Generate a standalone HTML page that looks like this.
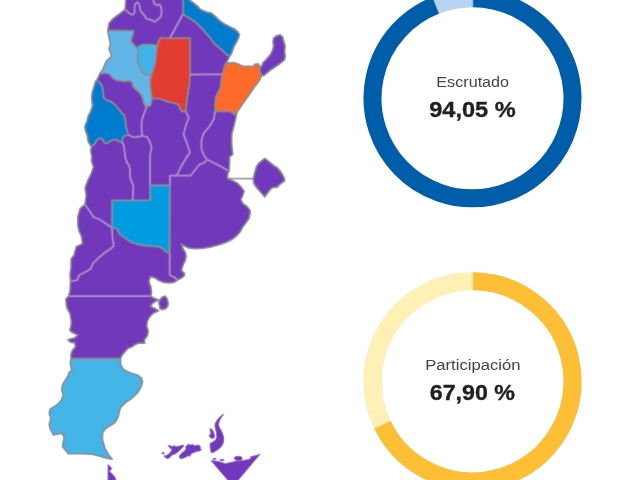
<!DOCTYPE html>
<html lang="es">
<head>
<meta charset="utf-8">
<title>Escrutinio</title>
<style>
html,body{margin:0;padding:0;background:#fff;}
body{width:621px;height:480px;overflow:hidden;position:relative;font-family:"Liberation Sans",sans-serif;}
svg{position:absolute;left:0;top:0;display:block;}
.lbl{font-family:"Liberation Sans",sans-serif;font-size:15.3px;fill:#444;}
.val{font-family:"Liberation Sans",sans-serif;font-size:22.2px;font-weight:bold;fill:#1f2024;stroke:#1f2024;stroke-width:0.35px;}
</style>
</head>
<body>
<svg width="621" height="480" viewBox="0 0 621 480">
<defs><filter id="soft" x="0" y="0" width="621" height="480" filterUnits="userSpaceOnUse"><feConvolveMatrix order="3" kernelMatrix="0.0113 0.0838 0.0113 0.0838 0.6193 0.0838 0.0113 0.0838 0.0113" edgeMode="duplicate" preserveAlpha="true"/></filter></defs>
<g filter="url(#soft)">
<rect x="-5" y="-5" width="631" height="490" fill="#fff"/>
<g stroke="none">
<path d="M125.8 -2.0 L183.0 -2.0 L183.0 14.0 L170.0 38.0 L160.6 38.0 L158.6 41.2 L157.2 45.3 L155.0 45.0 L149.0 44.5 L142.5 44.5 L138.7 46.4 L136.7 48.3 L134.8 45.7 L132.2 43.2 L130.9 40.0 L132.9 34.8 L133.5 30.8 L107.7 30.4 L108.4 27.0 L109.0 23.2 L112.9 18.7 L119.3 14.2 L125.1 9.3 L125.4 5.0 L125.8 0.0 L125.8 -2.0 Z" fill="#7239bc"/>
<path d="M183.0 -2.0 L183.0 14.0 L186.8 16.8 L191.3 19.3 L195.8 22.6 L199.6 26.4 L203.5 30.3 L206.7 34.1 L209.9 37.4 L212.5 41.2 L215.1 44.5 L219.0 47.7 L222.8 50.9 L226.7 54.8 L229.7 56.5 L231.9 52.8 L233.1 49.0 L234.4 45.7 L236.4 42.5 L238.3 38.7 L239.6 34.8 L237.7 31.6 L234.4 29.0 L229.3 26.4 L224.1 23.8 L219.0 20.0 L215.1 16.1 L211.2 12.9 L207.4 12.2 L200.9 9.7 L197.7 6.4 L193.2 2.6 L189.3 0.0 L188.0 -2.0 Z" fill="#057ccf"/>
<path d="M170.0 38.0 L183.0 14.0 L186.8 16.8 L191.3 19.3 L195.8 22.6 L199.6 26.4 L203.5 30.3 L206.7 34.1 L209.9 37.4 L212.5 41.2 L215.1 44.5 L219.0 47.7 L222.8 50.9 L226.7 54.8 L229.7 56.5 L227.6 60.7 L224.8 65.0 L223.4 71.0 L222.3 74.3 L190.0 74.5 L190.0 38.0 L170.0 38.0 Z" fill="#7239bc"/>
<path d="M157.2 45.3 L158.6 41.2 L160.6 38.0 L170.0 38.0 L190.0 38.0 L190.0 74.5 L189.5 85.0 L187.2 97.7 L185.7 111.4 L181.5 111.4 L178.4 104.5 L174.0 103.0 L168.4 101.9 L160.0 98.7 L152.2 98.5 L150.6 88.5 L150.2 80.8 L151.5 75.0 L153.0 70.0 L155.4 62.7 L156.6 50.0 L157.2 45.3 Z" fill="#e23b30"/>
<path d="M136.7 48.3 L138.7 46.4 L142.5 44.5 L149.0 44.5 L155.0 45.0 L157.2 45.3 L156.6 50.0 L155.4 62.7 L153.0 70.0 L151.5 75.0 L147.0 75.0 L143.1 73.0 L140.6 68.5 L138.6 64.7 L137.3 60.2 L138.0 55.4 L138.7 51.5 L136.7 48.3 Z" fill="#40b4e8"/>
<path d="M107.7 30.4 L133.5 30.8 L132.9 34.8 L130.9 40.0 L132.2 43.2 L134.8 45.7 L136.7 48.3 L138.7 51.5 L138.0 55.4 L137.3 60.2 L138.6 64.7 L140.6 68.5 L143.1 73.0 L147.0 75.0 L151.5 75.0 L150.2 80.8 L150.6 88.5 L152.2 98.5 L150.6 105.0 L146.4 107.2 L144.4 104.6 L143.1 100.1 L141.9 96.2 L139.3 92.4 L135.4 89.1 L132.8 85.9 L132.2 82.7 L129.0 80.8 L124.5 81.4 L120.0 80.8 L116.1 80.1 L112.2 77.6 L109.6 74.3 L105.8 73.0 L101.3 73.7 L100.5 72.5 L102.6 69.8 L104.5 65.3 L106.4 60.8 L110.9 57.0 L111.0 54.3 L109.0 49.0 L110.4 44.0 L109.0 37.5 L107.7 30.4 Z" fill="#64b4e7"/>
<path d="M100.5 72.5 L101.3 73.7 L105.8 73.0 L109.6 74.3 L112.2 77.6 L116.1 80.1 L120.0 80.8 L124.5 81.4 L129.0 80.8 L132.2 82.7 L132.8 85.9 L135.4 89.1 L139.3 92.4 L141.9 96.2 L143.1 100.1 L144.4 104.6 L146.4 107.2 L143.5 115.3 L141.5 121.8 L141.5 129.0 L142.2 135.9 L140.0 136.3 L134.8 137.3 L131.0 136.3 L128.4 134.7 L127.7 132.1 L126.5 128.9 L125.8 125.0 L125.6 120.5 L124.1 115.3 L121.9 113.0 L118.7 109.1 L114.8 104.6 L110.9 101.4 L106.4 100.1 L103.8 97.5 L103.2 92.4 L102.6 87.2 L100.6 83.4 L97.0 80.1 L98.0 77.6 L100.5 72.5 Z" fill="#7239bc"/>
<path d="M97.0 80.1 L100.6 83.4 L102.6 87.2 L103.2 92.4 L103.8 97.5 L106.4 100.1 L110.9 101.4 L114.8 104.6 L118.7 109.1 L121.9 113.0 L124.1 115.3 L125.6 120.5 L125.8 125.0 L126.5 128.9 L127.7 132.1 L128.4 134.7 L124.5 136.0 L122.9 137.6 L122.3 140.5 L121.9 142.4 L119.4 141.8 L116.8 139.8 L114.2 139.5 L111.6 140.5 L109.7 141.5 L108.4 142.7 L105.8 143.4 L104.2 142.4 L102.6 139.5 L100.0 137.9 L96.4 140.4 L95.1 143.7 L91.3 146.9 L89.3 143.7 L88.0 141.1 L87.4 135.9 L85.5 130.8 L84.8 126.3 L86.8 121.8 L88.0 116.6 L90.6 111.4 L92.6 105.0 L92.2 104.0 L91.6 97.5 L92.2 92.4 L94.2 85.9 L95.5 81.4 L97.0 80.1 Z" fill="#057ccf"/>
<path d="M91.3 146.9 L95.1 143.7 L96.4 140.4 L100.0 137.9 L102.6 139.5 L104.2 142.4 L105.8 143.4 L108.4 142.7 L109.7 141.5 L111.6 140.5 L114.2 139.5 L116.8 139.8 L119.4 141.8 L121.9 142.4 L123.2 143.7 L124.1 147.5 L124.8 152.7 L125.4 157.8 L126.7 161.7 L128.6 165.0 L130.0 168.8 L130.0 177.2 L133.3 185.6 L132.8 200.2 L112.0 200.2 L112.0 227.5 L110.2 226.4 L104.0 222.2 L98.7 219.0 L93.5 217.0 L89.3 210.7 L85.0 204.4 L86.2 195.0 L85.0 187.7 L88.3 179.3 L91.4 173.0 L93.5 166.7 L92.6 165.0 L91.3 160.4 L91.9 156.5 L90.6 151.4 L91.3 146.9 Z" fill="#7239bc"/>
<path d="M128.4 134.7 L131.0 136.3 L134.8 137.3 L140.0 136.3 L142.2 135.9 L147.3 137.2 L150.0 142.4 L151.6 147.0 L150.6 152.0 L150.0 158.4 L150.0 185.2 L150.0 200.2 L132.8 200.2 L133.3 185.6 L130.0 177.2 L130.0 168.8 L128.6 165.0 L126.7 161.7 L125.4 157.8 L124.8 152.7 L124.1 147.5 L123.2 143.7 L121.9 142.4 L122.3 140.5 L122.9 137.6 L124.5 136.0 L128.4 134.7 Z" fill="#7239bc"/>
<path d="M152.2 98.5 L160.0 98.7 L168.4 101.9 L174.0 103.0 L178.4 104.5 L181.5 111.4 L185.7 111.4 L188.8 117.7 L185.7 126.0 L183.6 134.4 L186.7 142.8 L190.0 152.2 L187.2 156.3 L181.0 166.7 L176.7 175.7 L170.0 175.7 L170.0 185.2 L150.0 185.2 L150.0 158.4 L150.6 152.0 L151.6 147.0 L150.0 142.4 L147.3 137.2 L142.2 135.9 L141.5 129.0 L141.5 121.8 L143.5 115.3 L146.4 107.2 L150.6 105.0 L152.2 98.5 Z" fill="#7239bc"/>
<path d="M190.0 74.5 L222.3 74.3 L221.3 79.5 L220.2 88.0 L216.0 96.3 L215.0 104.0 L215.0 111.4 L214.0 118.7 L209.8 126.0 L203.5 133.4 L201.4 140.7 L201.4 149.0 L204.5 156.4 L207.3 159.5 L204.5 162.7 L199.5 164.5 L190.4 175.7 L176.7 175.7 L181.0 166.7 L187.2 156.3 L190.0 152.2 L186.7 142.8 L183.6 134.4 L185.7 126.0 L188.8 117.7 L185.7 111.4 L187.2 97.7 L189.5 85.0 L190.0 74.5 Z" fill="#7239bc"/>
<path d="M224.8 65.0 L227.9 63.0 L233.0 62.6 L237.6 63.7 L241.4 65.6 L245.3 66.5 L249.1 66.0 L252.4 66.9 L255.0 64.3 L258.2 63.7 L259.5 66.2 L260.1 71.4 L261.4 76.5 L259.5 80.4 L256.2 85.0 L253.7 88.0 L249.5 94.2 L243.3 103.0 L237.0 112.4 L234.9 114.5 L230.7 111.4 L224.4 111.4 L215.0 111.4 L215.0 104.0 L216.0 96.3 L220.2 88.0 L221.3 79.5 L222.3 74.3 L223.4 71.0 L224.8 65.0 Z" fill="#fd6a2a"/>
<path d="M260.1 71.4 L261.4 74.6 L263.3 75.9 L266.5 73.3 L270.4 70.1 L274.3 67.5 L278.1 65.0 L281.4 62.4 L284.6 59.8 L285.2 55.9 L284.6 50.8 L285.2 46.3 L283.9 41.8 L282.7 37.2 L280.1 34.7 L276.2 36.0 L273.6 37.9 L273.0 41.8 L273.6 46.3 L272.3 50.8 L269.8 55.3 L266.5 59.1 L263.3 62.4 L260.7 67.5 L259.5 66.2 Z" fill="#7239bc"/>
<path d="M215.0 111.4 L224.4 111.4 L230.7 111.4 L234.9 114.5 L237.0 112.4 L235.4 120.0 L233.5 127.7 L231.8 134.2 L231.6 141.9 L232.2 149.6 L232.8 154.3 L229.7 157.0 L229.5 163.5 L229.3 171.0 L225.5 169.3 L220.3 166.1 L215.2 163.5 L210.0 161.0 L207.3 159.5 L204.5 156.4 L201.4 149.0 L201.4 140.7 L203.5 133.4 L209.8 126.0 L214.0 118.7 L215.0 111.4 Z" fill="#7239bc"/>
<path d="M170.0 185.2 L170.0 175.7 L176.7 175.7 L190.4 175.7 L199.5 164.5 L204.5 162.7 L207.3 159.5 L210.0 161.0 L215.2 163.5 L220.3 166.1 L225.5 169.3 L229.3 171.0 L228.0 173.2 L227.4 178.4 L231.9 180.3 L237.1 182.9 L240.9 186.7 L244.2 191.2 L242.9 195.1 L240.9 199.6 L242.9 203.5 L246.7 206.1 L250.0 210.0 L250.3 212.8 L249.0 218.5 L246.0 222.7 L242.2 227.9 L240.2 231.8 L237.0 235.6 L231.9 239.5 L225.4 242.7 L217.7 245.3 L209.9 247.2 L202.2 248.5 L194.5 248.8 L188.0 247.9 L184.2 245.9 L181.6 244.0 L182.9 248.5 L185.5 252.4 L186.1 256.2 L185.5 260.1 L183.5 264.0 L182.2 267.8 L181.5 270.6 L184.6 273.3 L184.4 275.5 L181.9 277.9 L178.0 279.8 L177.3 280.3 L175.4 277.9 L171.5 276.0 L169.6 274.7 L169.8 253.8 L170.0 185.2 Z" fill="#7239bc"/>
<path d="M150.0 185.2 L170.0 185.2 L169.8 253.8 L164.0 250.2 L160.0 247.0 L154.2 246.5 L143.7 245.6 L137.3 244.3 L132.2 242.8 L128.3 240.3 L124.4 237.7 L120.6 235.1 L118.6 232.5 L116.7 228.7 L112.0 227.5 L112.0 200.2 L132.8 200.2 L150.0 200.2 L150.0 185.2 Z" fill="#059ce1"/>
<path d="M85.0 204.4 L89.3 210.7 L93.5 217.0 L98.7 219.0 L104.0 222.2 L110.2 226.4 L112.0 227.5 L112.5 238.4 L113.8 245.7 L110.7 248.8 L104.4 253.0 L98.0 258.3 L93.0 263.5 L90.8 268.7 L83.5 273.0 L79.3 275.0 L77.2 280.2 L70.5 281.3 L70.0 274.0 L71.0 267.7 L71.0 259.3 L74.0 255.0 L76.2 246.7 L82.4 243.6 L81.4 236.3 L79.0 231.0 L77.8 225.4 L77.8 217.0 L80.0 208.6 L85.0 204.4 Z" fill="#7239bc"/>
<path d="M70.5 281.3 L77.2 280.2 L79.3 275.0 L83.5 273.0 L90.8 268.7 L93.0 263.5 L98.0 258.3 L104.4 253.0 L110.7 248.8 L113.8 245.7 L112.5 238.4 L112.0 227.5 L116.7 228.7 L118.6 232.5 L120.6 235.1 L124.4 237.7 L128.3 240.3 L132.2 242.8 L137.3 244.3 L143.7 245.6 L154.2 246.5 L160.0 247.0 L164.0 250.2 L169.8 253.8 L169.6 274.7 L171.5 276.0 L175.4 277.9 L177.3 280.3 L174.1 282.4 L169.0 283.0 L163.8 282.4 L158.7 280.5 L154.8 277.9 L150.3 276.6 L149.0 281.8 L150.9 286.9 L151.6 292.0 L150.9 296.2 L68.5 296.2 L70.0 290.7 L70.5 281.3 Z" fill="#7239bc"/>
<path d="M68.5 296.2 L150.9 296.2 L154.7 298.5 L158.7 299.8 L153.0 303.0 L150.3 306.2 L154.0 308.0 L158.7 310.7 L153.3 313.3 L150.0 316.7 L147.5 320.8 L146.7 325.8 L148.3 330.8 L147.5 335.8 L144.2 340.0 L145.0 343.3 L140.0 343.0 L135.8 344.2 L132.5 346.7 L128.3 348.3 L125.0 351.7 L121.7 355.8 L120.6 358.6 L71.0 358.6 L70.9 354.5 L72.2 350.6 L75.4 346.8 L74.8 342.9 L70.3 342.2 L67.9 339.7 L74.8 337.7 L78.2 335.2 L72.2 332.6 L69.6 330.0 L70.4 328.0 L71.4 322.6 L70.0 313.7 L66.7 307.5 L65.7 299.0 L68.5 296.2 Z" fill="#7239bc"/>
<path d="M71.0 358.6 L120.6 358.6 L120.6 364.4 L123.7 369.7 L130.0 372.8 L137.3 375.0 L141.5 378.0 L142.6 382.2 L141.0 387.0 L137.8 392.6 L132.6 397.8 L126.3 402.0 L121.0 407.2 L119.7 410.0 L118.3 416.7 L115.0 422.5 L110.0 425.8 L105.0 429.2 L102.5 433.3 L102.5 440.0 L105.0 448.3 L108.3 454.2 L112.2 459.3 L106.7 458.3 L98.3 455.8 L91.7 454.2 L81.7 453.7 L68.3 453.7 L66.7 451.7 L62.5 446.7 L63.3 441.7 L64.2 436.7 L61.7 433.3 L53.3 435.0 L50.0 428.3 L49.2 424.2 L50.8 418.3 L49.2 413.3 L50.0 409.2 L56.7 405.0 L60.8 400.8 L63.3 395.0 L61.7 390.0 L62.5 385.0 L65.1 380.3 L67.7 376.4 L69.0 372.5 L71.6 370.6 L70.9 367.4 L70.3 362.2 L71.0 358.6 Z" fill="#45b4e6"/>
</g>
<g fill="none" stroke="#8a8a8a" stroke-width="1.6" stroke-linejoin="round">
<path d="M260.1 71.4 L259.5 66.2" stroke="#8a8a8a"/>
<path d="M183.0 -2.0 L183.0 14.0" stroke="#8a8a8a"/>
<path d="M183.0 14.0 L186.8 16.8 L191.3 19.3 L195.8 22.6 L199.6 26.4 L203.5 30.3 L206.7 34.1 L209.9 37.4 L212.5 41.2 L215.1 44.5 L219.0 47.7 L222.8 50.9 L226.7 54.8 L229.7 56.5" stroke="#8a8a8a"/>
<path d="M170.0 38.0 L160.6 38.0 L158.6 41.2 L157.2 45.3" stroke="#8a8a8a"/>
<path d="M170.0 38.0 L190.0 38.0 L190.0 74.5" stroke="#8a8a8a"/>
<path d="M224.8 65.0 L223.4 71.0 L222.3 74.3" stroke="#8a8a8a"/>
<path d="M190.0 74.5 L189.5 85.0 L187.2 97.7 L185.7 111.4" stroke="#8a8a8a"/>
<path d="M152.2 98.5 L160.0 98.7 L168.4 101.9 L174.0 103.0 L178.4 104.5 L181.5 111.4 L185.7 111.4" stroke="#8a8a8a"/>
<path d="M151.5 75.0 L150.2 80.8 L150.6 88.5 L152.2 98.5" stroke="#8a8a8a"/>
<path d="M157.2 45.3 L156.6 50.0 L155.4 62.7 L153.0 70.0 L151.5 75.0" stroke="#8a8a8a"/>
<path d="M136.7 48.3 L138.7 46.4 L142.5 44.5 L149.0 44.5 L155.0 45.0 L157.2 45.3" stroke="#8a8a8a"/>
<path d="M107.7 30.4 L133.5 30.8 L132.9 34.8 L130.9 40.0 L132.2 43.2 L134.8 45.7 L136.7 48.3" stroke="#8a8a8a"/>
<path d="M136.7 48.3 L138.7 51.5 L138.0 55.4 L137.3 60.2 L138.6 64.7 L140.6 68.5 L143.1 73.0 L147.0 75.0 L151.5 75.0" stroke="#8a8a8a"/>
<path d="M100.5 72.5 L101.3 73.7 L105.8 73.0 L109.6 74.3 L112.2 77.6 L116.1 80.1 L120.0 80.8 L124.5 81.4 L129.0 80.8 L132.2 82.7 L132.8 85.9 L135.4 89.1 L139.3 92.4 L141.9 96.2 L143.1 100.1 L144.4 104.6 L146.4 107.2" stroke="#8a8a8a"/>
<path d="M146.4 107.2 L150.6 105.0 L152.2 98.5" stroke="#8a8a8a"/>
<path d="M97.0 80.1 L100.6 83.4 L102.6 87.2 L103.2 92.4 L103.8 97.5 L106.4 100.1 L110.9 101.4 L114.8 104.6 L118.7 109.1 L121.9 113.0 L124.1 115.3 L125.6 120.5 L125.8 125.0 L126.5 128.9 L127.7 132.1 L128.4 134.7" stroke="#8a8a8a"/>
<path d="M121.9 142.4 L119.4 141.8 L116.8 139.8 L114.2 139.5 L111.6 140.5 L109.7 141.5 L108.4 142.7 L105.8 143.4 L104.2 142.4 L102.6 139.5 L100.0 137.9 L96.4 140.4 L95.1 143.7 L91.3 146.9" stroke="#8a8a8a"/>
<path d="M128.4 134.7 L124.5 136.0 L122.9 137.6 L122.3 140.5 L121.9 142.4" stroke="#8a8a8a"/>
<path d="M150.0 185.2 L150.0 200.2 L132.8 200.2" stroke="#8a8a8a"/>
<path d="M132.8 200.2 L112.0 200.2 L112.0 227.5" stroke="#8a8a8a"/>
<path d="M112.0 227.5 L116.7 228.7 L118.6 232.5 L120.6 235.1 L124.4 237.7 L128.3 240.3 L132.2 242.8 L137.3 244.3 L143.7 245.6 L154.2 246.5 L160.0 247.0 L164.0 250.2 L169.8 253.8" stroke="#8a8a8a"/>
<path d="M150.0 185.2 L170.0 185.2" stroke="#8a8a8a"/>
<path d="M170.0 185.2 L169.8 253.8" stroke="#8a8a8a"/>
<path d="M71.0 358.6 L120.6 358.6" stroke="#8a8a8a"/>
<path d="M222.3 74.3 L221.3 79.5 L220.2 88.0 L216.0 96.3 L215.0 104.0 L215.0 111.4" stroke="#8a8a8a"/>
<path d="M215.0 111.4 L224.4 111.4 L230.7 111.4 L234.9 114.5 L237.0 112.4" stroke="#8a8a8a"/>
<path d="M183.0 14.0 L170.0 38.0" stroke="#aa8dc6" stroke-width="1.8"/>
<path d="M190.0 74.5 L222.3 74.3" stroke="#aa8dc6" stroke-width="1.8"/>
<path d="M146.4 107.2 L143.5 115.3 L141.5 121.8 L141.5 129.0 L142.2 135.9" stroke="#aa8dc6" stroke-width="1.8"/>
<path d="M128.4 134.7 L131.0 136.3 L134.8 137.3 L140.0 136.3 L142.2 135.9" stroke="#aa8dc6" stroke-width="1.8"/>
<path d="M142.2 135.9 L147.3 137.2 L150.0 142.4 L151.6 147.0 L150.6 152.0 L150.0 158.4 L150.0 185.2" stroke="#aa8dc6" stroke-width="1.8"/>
<path d="M121.9 142.4 L123.2 143.7 L124.1 147.5 L124.8 152.7 L125.4 157.8 L126.7 161.7 L128.6 165.0 L130.0 168.8 L130.0 177.2 L133.3 185.6 L132.8 200.2" stroke="#aa8dc6" stroke-width="1.8"/>
<path d="M85.0 204.4 L89.3 210.7 L93.5 217.0 L98.7 219.0 L104.0 222.2 L110.2 226.4 L112.0 227.5" stroke="#aa8dc6" stroke-width="1.8"/>
<path d="M112.0 227.5 L112.5 238.4 L113.8 245.7 L110.7 248.8 L104.4 253.0 L98.0 258.3 L93.0 263.5 L90.8 268.7 L83.5 273.0 L79.3 275.0 L77.2 280.2 L70.5 281.3" stroke="#aa8dc6" stroke-width="1.8"/>
<path d="M170.0 185.2 L170.0 175.7 L176.7 175.7" stroke="#aa8dc6" stroke-width="1.8"/>
<path d="M68.5 296.2 L150.9 296.2" stroke="#aa8dc6" stroke-width="1.8"/>
<path d="M215.0 111.4 L214.0 118.7 L209.8 126.0 L203.5 133.4 L201.4 140.7 L201.4 149.0 L204.5 156.4 L207.3 159.5" stroke="#aa8dc6" stroke-width="1.8"/>
<path d="M207.3 159.5 L204.5 162.7 L199.5 164.5 L190.4 175.7 L176.7 175.7" stroke="#aa8dc6" stroke-width="1.8"/>
<path d="M185.7 111.4 L188.8 117.7 L185.7 126.0 L183.6 134.4 L186.7 142.8 L190.0 152.2 L187.2 156.3 L181.0 166.7 L176.7 175.7" stroke="#aa8dc6" stroke-width="1.8"/>
<path d="M207.3 159.5 L210.0 161.0 L215.2 163.5 L220.3 166.1 L225.5 169.3 L229.3 171.0" stroke="#aa8dc6" stroke-width="1.8"/>
<path d="M169.8 253.8 L169.6 274.7 L171.5 276.0 L175.4 277.9 L177.3 280.3" stroke="#aa8dc6" stroke-width="1.8"/>
<path d="M125.1 9.3 L129.6 13.5 L132.9 14.8 L134.8 12.2 L134.5 7.7 L135.4 3.9 L137.4 2.3 L139.3 4.5 L139.9 9.0 L141.9 12.9 L144.5 15.5 L146.4 18.7 L149.6 19.3 L152.8 20.6 L154.8 21.9 L158.0 19.3 L160.6 16.8 L161.6 12.9 L161.2 7.7 L159.9 4.5 L156.7 5.2 L154.1 3.2 L152.8 -2.0" stroke="#aa8dc6" stroke-width="1.8"/>
<path d="M125.8 -2.0 L125.8 0.0 L125.4 5.0 L125.1 9.3 L119.3 14.2 L112.9 18.7 L109.0 23.2 L108.4 27.0 L107.7 30.4 L109.0 37.5 L110.4 44.0 L109.0 49.0 L111.0 54.3 L110.9 57.0 L106.4 60.8 L104.5 65.3 L102.6 69.8 L100.5 72.5 L98.0 77.6 L97.0 80.1 L95.5 81.4 L94.2 85.9 L92.2 92.4 L91.6 97.5 L92.2 104.0 L92.6 105.0 L90.6 111.4 L88.0 116.6 L86.8 121.8 L84.8 126.3 L85.5 130.8 L87.4 135.9 L88.0 141.1 L89.3 143.7 L91.3 146.9 L90.6 151.4 L91.9 156.5 L91.3 160.4 L92.6 165.0 L93.5 166.7 L91.4 173.0 L88.3 179.3 L85.0 187.7 L86.2 195.0 L85.0 204.4 L80.0 208.6 L77.8 217.0 L77.8 225.4 L79.0 231.0 L81.4 236.3 L82.4 243.6 L76.2 246.7 L74.0 255.0 L71.0 259.3 L71.0 267.7 L70.0 274.0 L70.5 281.3 L70.0 290.7 L68.5 296.2 L65.7 299.0 L66.7 307.5 L70.0 313.7 L71.4 322.6 L70.4 328.0 L69.6 330.0 L72.2 332.6 L78.2 335.2 L74.8 337.7 L67.9 339.7 L70.3 342.2 L74.8 342.9 L75.4 346.8 L72.2 350.6 L70.9 354.5 L71.0 358.6 L70.3 362.2 L70.9 367.4 L71.6 370.6 L69.0 372.5 L67.7 376.4 L65.1 380.3 L62.5 385.0 L61.7 390.0 L63.3 395.0 L60.8 400.8 L56.7 405.0 L50.0 409.2 L49.2 413.3 L50.8 418.3 L49.2 424.2 L50.0 428.3 L53.3 435.0 L61.7 433.3 L64.2 436.7 L63.3 441.7 L62.5 446.7 L66.7 451.7 L68.3 453.7 L81.7 453.7 L91.7 454.2 L98.3 455.8 L106.7 458.3 L112.2 459.3 L108.3 454.2 L105.0 448.3 L102.5 440.0 L102.5 433.3 L105.0 429.2 L110.0 425.8 L115.0 422.5 L118.3 416.7 L119.7 410.0 L121.0 407.2 L126.3 402.0 L132.6 397.8 L137.8 392.6 L141.0 387.0 L142.6 382.2 L141.5 378.0 L137.3 375.0 L130.0 372.8 L123.7 369.7 L120.6 364.4 L120.6 358.6 L121.7 355.8 L125.0 351.7 L128.3 348.3 L132.5 346.7 L135.8 344.2 L140.0 343.0 L145.0 343.3 L144.2 340.0 L147.5 335.8 L148.3 330.8 L146.7 325.8 L147.5 320.8 L150.0 316.7 L153.3 313.3 L158.7 310.7 L154.0 308.0 L150.3 306.2 L153.0 303.0 L158.7 299.8 L154.7 298.5 L150.9 296.2 L151.6 292.0 L150.9 286.9 L149.0 281.8 L150.3 276.6 L154.8 277.9 L158.7 280.5 L163.8 282.4 L169.0 283.0 L174.1 282.4 L177.3 280.3 L178.0 279.8 L181.9 277.9 L184.4 275.5 L184.6 273.3 L181.5 270.6 L182.2 267.8 L183.5 264.0 L185.5 260.1 L186.1 256.2 L185.5 252.4 L182.9 248.5 L181.6 244.0 L184.2 245.9 L188.0 247.9 L194.5 248.8 L202.2 248.5 L209.9 247.2 L217.7 245.3 L225.4 242.7 L231.9 239.5 L237.0 235.6 L240.2 231.8 L242.2 227.9 L246.0 222.7 L249.0 218.5 L250.3 212.8 L250.0 210.0 L246.7 206.1 L242.9 203.5 L240.9 199.6 L242.9 195.1 L244.2 191.2 L240.9 186.7 L237.1 182.9 L231.9 180.3 L227.4 178.4 L228.0 173.2 L229.3 171.0 L229.5 163.5 L229.7 157.0 L232.8 154.3 L232.2 149.6 L231.6 141.9 L231.8 134.2 L233.5 127.7 L235.4 120.0 L237.0 112.4 L243.3 103.0 L249.5 94.2 L253.7 88.0 L256.2 85.0 L259.5 80.4 L261.4 76.5 L260.1 71.4" stroke="#888888" stroke-width="1.6"/>
<path d="M260.1 71.4 L261.4 74.6 L263.3 75.9 L266.5 73.3 L270.4 70.1 L274.3 67.5 L278.1 65.0 L281.4 62.4 L284.6 59.8 L285.2 55.9 L284.6 50.8 L285.2 46.3 L283.9 41.8 L282.7 37.2 L280.1 34.7 L276.2 36.0 L273.6 37.9 L273.0 41.8 L273.6 46.3 L272.3 50.8 L269.8 55.3 L266.5 59.1 L263.3 62.4 L260.7 67.5 L259.5 66.2 L258.2 63.7 L255.0 64.3 L252.4 66.9 L249.1 66.0 L245.3 66.5 L241.4 65.6 L237.6 63.7 L233.0 62.6 L227.9 63.0 L224.8 65.0 L227.6 60.7 L229.7 56.5 L231.9 52.8 L233.1 49.0 L234.4 45.7 L236.4 42.5 L238.3 38.7 L239.6 34.8 L237.7 31.6 L234.4 29.0 L229.3 26.4 L224.1 23.8 L219.0 20.0 L215.1 16.1 L211.2 12.9 L207.4 12.2 L200.9 9.7 L197.7 6.4 L193.2 2.6 L189.3 0.0 L188.0 -2.0" stroke="#888888" stroke-width="1.6"/>
</g>
<path d="M227.6 178.6 L253.4 178.6" fill="none" stroke="#858585" stroke-width="1.5"/>
<g fill="#7239bc" stroke="#8a8a8a" stroke-width="1.6" stroke-linejoin="round">
<path stroke="#8a8a8a" stroke-width="1.7" d="M253.2 179 L254.5 173.2 L256.4 166.8 L259 162.9 L264.8 158.4 L270.6 162.9 L274.4 166.1 L277 167.4 L280.9 171.9 L284.1 177.7 L284.7 180.9 L280.2 184.1 L277 187.4 L273.1 187.4 L270.6 189.3 L268 192.5 L264.8 197 L260.9 192.5 L256.4 187.4 L253.8 183.5 Z"/>
<path d="M160 299.8 L161.9 297.2 L165.1 296 L167 298.5 L168.3 302.4 L167.9 306.2 L165.7 308.8 L162.5 309.8 L160 308.8 L159.3 305 L158.7 302.4 Z"/>
</g>
<g fill="#7239bc" stroke="#7239bc" stroke-width="0.9" stroke-linejoin="round">
<path d="M108.1 464.6 L111.9 468.5 L109.3 471.3 L113 474.7 L115 477.5 L116.3 482 L108.1 482 Z"/>
<circle cx="163.1" cy="453.2" r="1"/>
<path d="M164 456.1 L166.9 455.3 L169 454 L170.7 451.9 L172.3 449.8 L169.8 447.7 L168.1 445.6 L170.7 446 L172.8 446.9 L174 445.2 L175.7 446.9 L178.2 446.5 L181.1 445.6 L183.6 445.2 L183.2 446.9 L181.1 449 L179 451 L176.9 452.7 L174.8 454 L172.3 454.8 L170.7 456.5 L168.6 458.2 L166.9 458.6 L165.6 457.4 L164 456.5 Z"/>
<path d="M179.9 458.2 L179.5 456.1 L180.7 454 L182.8 452.3 L184.9 450.7 L186.2 448.6 L185.7 446.5 L187.8 445.2 L188.2 444 L190.3 445.2 L192.9 444.4 L194.1 446 L197 445.2 L199.6 445.6 L200.4 447.3 L200 448.6 L201.2 449.4 L200.4 450.7 L198.3 451.1 L196.2 451.5 L194.1 452.3 L192 453.2 L190.3 454.8 L190.8 456.1 L189.1 455.7 L187 456.1 L185.3 457.4 L183.2 457.9 L181.1 458.8 Z"/>
<path d="M223.7 414.3 L221.3 417.3 L219.2 421.2 L218.3 425.2 L220.2 429 L222.5 433.5 L223.7 438 L223.2 443.2 L221 447 L217.2 450 L213.5 452.2 L211.2 452.7 L210.2 447 L210.2 443.2 L212.7 442.2 L215.9 439.8 L216.9 436.5 L216.4 432 L215.2 427.5 L215 424.2 L216.8 420.7 L219.5 417.3 L222.5 414.7 Z"/>
<path d="M210 428.6 L212 429.4 L213.8 432.7 L214.6 437 L212.7 438.6 L210 437.3 L209.4 435 L211.2 433.8 L210.4 431.2 Z"/>
<path d="M211.2 460.8 L216.5 461.2 L221 462.3 L225.5 463.8 L230 462.7 L234.5 461.7 L239 461.2 L243.5 460.5 L248 459.7 L251.7 458.2 L250.5 456.8 L256.2 455.6 L260 454.2 L238.2 480 L238.2 482 L227.7 482 L227.7 480 Z"/>
<ellipse cx="238.2" cy="458.3" rx="4" ry="2"/>
<path d="M213 458.5 L216 458.3 L216 459 L213 459.3 Z"/>
<path d="M220 459.6 L224 459.8 L224 460.6 L220 460.3 Z"/>
</g>

</g>
<g fill="none" stroke-width="18" filter="url(#soft)">
<path d="M472.50 -1.70 A100 100 0 1 1 435.98 5.21" stroke="#045da9"/>
<path d="M435.98 5.21 A100 100 0 0 1 472.50 -1.70" stroke="#b6d4f4"/>
<path d="M472.50 281.30 A100 100 0 1 1 382.29 424.45" stroke="#fdbf34"/>
<path d="M382.29 424.45 A100 100 0 0 1 472.50 281.30" stroke="#fff1b6"/>
</g>
<text class="lbl" x="436.3" y="87.2" textLength="72.8" lengthAdjust="spacingAndGlyphs">Escrutado</text>
<text class="val" x="429.2" y="116.8" textLength="86.5" lengthAdjust="spacingAndGlyphs">94,05 %</text>
<text class="lbl" x="425.2" y="370" textLength="95.4" lengthAdjust="spacingAndGlyphs">Participación</text>
<text class="val" x="429.8" y="400.1" textLength="85.2" lengthAdjust="spacingAndGlyphs">67,90 %</text>
</svg>
</body>
</html>
